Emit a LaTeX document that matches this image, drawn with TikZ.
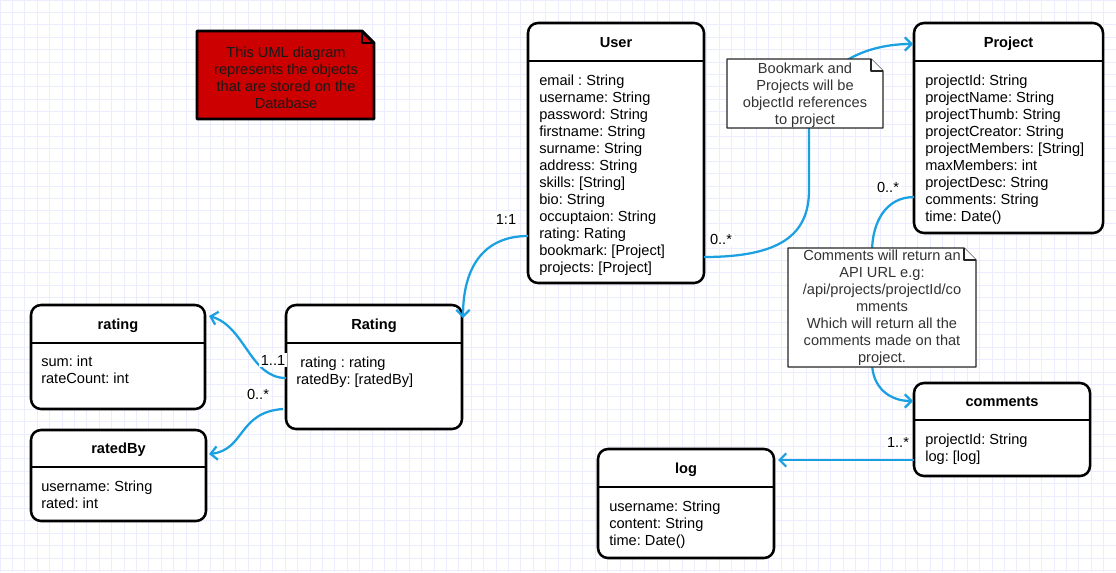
\documentclass[tikz,border=0pt]{standalone}
\usepackage{fontspec}
\setmainfont{Liberation Sans}
\frenchspacing
\usetikzlibrary{arrows.meta, positioning, calc}

\definecolor{linkblue}{RGB}{27,161,226}
\definecolor{gridcol}{RGB}{236,236,255}
\definecolor{notered}{RGB}{204,0,0}

\tikzset{
  classbox/.style={draw=black, fill=white, line width=1.9pt, rounded corners=7.5pt,
    inner sep=0pt, outer sep=0pt, anchor=north west},
  classline/.style={line width=1.9pt},
  classtitle/.style={font=\bfseries\fontsize{10.95}{12.75}\selectfont, inner sep=0pt, anchor=base},
  classattr/.style={font=\fontsize{10.95}{12.75}\selectfont, inner sep=0pt, anchor=base west},
  link/.style={draw=linkblue, line width=1.7pt, -{Straight Barb[length=5pt, width=10pt]}},
  mult/.style={font=\fontsize{10.95}{12.75}\selectfont, fill=white, inner sep=1.5pt},
  noteshape/.style={draw=black!85, fill=white, line width=0.9pt, line join=round},
  notetext/.style={font=\fontsize{10.95}{12.75}\selectfont, align=center, text=black!80, inner sep=0pt},
}

\begin{document}
\begin{tikzpicture}[x=0.75pt, y=-0.75pt]
\useasboundingbox (0,0) rectangle (1116,572);
\fill[white] (0,0) rectangle (1116,572);

% Background grid
\foreach \g in {0,...,90}
  \draw[gridcol, line width=0.75pt] (\g*12.4,0) -- (\g*12.4,572);
\foreach \g in {0,...,46}
  \draw[gridcol, line width=0.75pt] (0,\g*12.4) -- (1116,\g*12.4);

% User class
\node[classbox, minimum width=132pt, minimum height=195pt] (User) at (528,23) {};
\draw[classline] ($(User.north west)+(0,38)$) -- ($(User.north east)+(0,38)$);
\node[classtitle] (UserT) at ($(User.north)+(0,24)$) {User};
\foreach \a [count=\i from 0] in {email : String, username: String, password: String,
    firstname: String, surname: String, address: String, skills: [String], bio: String,
    occuptaion: String, rating: Rating, bookmark: [Project], projects: [Project]}
  \node[classattr] at ($(User.north west)+(11,62+17*\i)$) {\a};

% Project class
\node[classbox, minimum width=141.75pt, minimum height=157.5pt] (Project) at (914,23) {};
\draw[classline] ($(Project.north west)+(0,38)$) -- ($(Project.north east)+(0,38)$);
\node[classtitle] (ProjectT) at ($(Project.north)+(0,24)$) {Project};
\foreach \a [count=\i from 0] in {projectId: String, projectName: String, projectThumb: String,
    projectCreator: String, projectMembers: [String], maxMembers: int, projectDesc: String,
    comments: String, time: Date()}
  \node[classattr] at ($(Project.north west)+(11,62+17*\i)$) {\a};

% Rating class
\node[classbox, minimum width=132pt, minimum height=93pt] (Rating) at (286,305) {};
\draw[classline] ($(Rating.north west)+(0,38)$) -- ($(Rating.north east)+(0,38)$);
\node[classtitle] (RatingT) at ($(Rating.north)+(0,24)$) {Rating};
\foreach \a [count=\i from 0] in {\ rating : rating, ratedBy: [ratedBy]}
  \node[classattr] at ($(Rating.north west)+(10,62+17*\i)$) {\a};

% rating class
\node[classbox, minimum width=130.5pt, minimum height=78pt] (rating) at (31,305) {};
\draw[classline] ($(rating.north west)+(0,38)$) -- ($(rating.north east)+(0,38)$);
\node[classtitle] (ratingT) at ($(rating.north)+(0,24)$) {rating};
\foreach \a [count=\i from 0] in {sum: int, rateCount: int}
  \node[classattr] at ($(rating.north west)+(10,61+17*\i)$) {\a};

% ratedBy class
\node[classbox, minimum width=131.25pt, minimum height=68.25pt] (ratedBy) at (31,430) {};
\draw[classline] ($(ratedBy.north west)+(0,37)$) -- ($(ratedBy.north east)+(0,37)$);
\node[classtitle] (ratedByT) at ($(ratedBy.north)+(0,23)$) {ratedBy};
\foreach \a [count=\i from 0] in {username: String, rated: int}
  \node[classattr] at ($(ratedBy.north west)+(10,61.5+17*\i)$) {\a};

% comments class
\node[classbox, minimum width=132pt, minimum height=69.75pt] (comments) at (914,383) {};
\draw[classline] ($(comments.north west)+(0,37)$) -- ($(comments.north east)+(0,37)$);
\node[classtitle] (commentsT) at ($(comments.north)+(0,23)$) {comments};
\foreach \a [count=\i from 0] in {projectId: String, log: [log]}
  \node[classattr] at ($(comments.north west)+(11,61.5+17*\i)$) {\a};

% log class
\node[classbox, minimum width=132pt, minimum height=81.75pt] (log) at (598,449) {};
\draw[classline] ($(log.north west)+(0,38)$) -- ($(log.north east)+(0,38)$);
\node[classtitle] (logT) at ($(log.north)+(0,24)$) {log};
\foreach \a [count=\i from 0] in {username: String, content: String, time: Date()}
  \node[classattr] at ($(log.north west)+(11,62.5+17*\i)$) {\a};

% Connectors
\draw[link] ($(User.north west)+(0,213)$) .. controls +(-45,0) and +(0,-50) .. ($(Rating.north east)+(1,13)$);
\draw[link] ($(User.north east)+(0,234)$) .. controls +(76,0) and (809,235) .. (809,190)
  -- (809,128) .. controls (809,70) and (860,44) .. ($(Project.north west)+(-1,21)$);
\draw[link] ($(Project.north west)+(0,174)$) .. controls +(-28,0) and (872,222) .. (872,252)
  -- (872,362) .. controls (872,388) and (890,401) .. ($(comments.north west)+(-1,18)$);
\draw[link] ($(comments.north west)+(0,77)$) -- ($(log.north east)+(4,11)$);
\draw[link] ($(Rating.north west)+(0,73)$) .. controls +(-36,0) and (245,326) .. ($(rating.north east)+(4,11)$);
\draw[link] ($(Rating.north west)+(-3,104)$) .. controls +(-45,3) and (245,450) .. ($(ratedBy.north east)+(3,24)$);

% Notes
\filldraw[noteshape, draw=black, fill=notered, line width=2.2pt] (197,31) -- (362,31) -- (374,43) -- (374,119) -- (197,119) -- cycle;
\draw[black, line width=2.2pt, line join=round] (362,31) -- (362,43) -- (374,43);
\node[notetext, text=black!90] (dbnote) at (286,77.5) {This UML diagram\\represents the objects\\that are stored on the\\Database};

\filldraw[noteshape] (727,59) -- (871,59) -- (883,71) -- (883,128) -- (727,128) -- cycle;
\draw[noteshape] (871,59) -- (871,71) -- (883,71);
\node[notetext] (refnote) at (805,95.5) {Bookmark and\\Projects will be\\objectId references\\to project};

\filldraw[noteshape] (788,248) -- (964,248) -- (976,260) -- (976,367) -- (788,367) -- cycle;
\draw[noteshape] (964,248) -- (964,260) -- (976,260);
\node[notetext] (urlnote) at (882,308) {Comments will return an\\API URL e.g:\\/api/projects/projectId/co\\mments\\Which will return all the\\comments made on that\\project.};

% Multiplicities
\node[mult] (mUR) at (506,219) {1:1};
\node[mult] (mUP) at (721,239) {0..*};
\node[mult] (mPC) at (888,187) {0..*};
\node[mult] (mCL) at (898,442) {1..*};
\node[mult] (mRr) at (273,360) {1..1};
\node[mult] (mRb) at (258,394) {0..*};
\end{tikzpicture}
\end{document}
